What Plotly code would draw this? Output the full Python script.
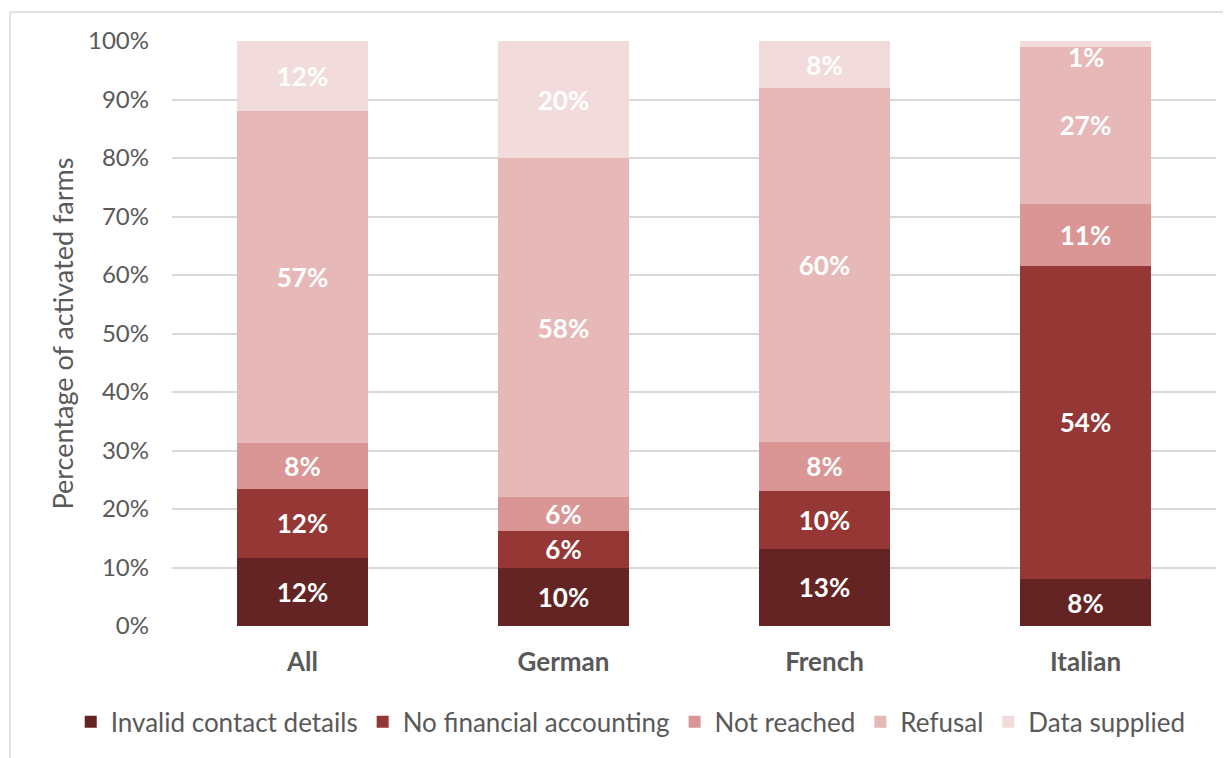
import plotly.graph_objects as go

categories = ["All", "German", "French", "Italian"]
series_names = ["Invalid contact details", "No financial accounting", "Not reached", "Refusal", "Data supplied"]
invalid_contact = [11.6, 10.0, 13.2, 8.0]
no_financial = [11.9, 6.2, 9.9, 53.6]
not_reached = [7.7, 5.8, 8.4, 10.6]
refusal = [56.8, 58.0, 60.4, 26.8]
data_supplied = [12.0, 20.0, 8.1, 1.0]
tick_vals = [0, 10, 20, 30, 40, 50, 60, 70, 80, 90, 100]
tick_text = ["0%", "10%", "20%", "30%", "40%", "50%", "60%", "70%", "80%", "90%", "100%"]

colors = ["#632423", "#953735", "#D99694", "#E6B9B8", "#F2DCDB"]
series = [invalid_contact, no_financial, not_reached, refusal, data_supplied]

FONT = "Lato"
GREY = "#595959"
SMALL = 3  # segments thinner than this get their label nudged down from the stack top

fig = go.Figure()
cum = [0.0] * len(categories)
annotations = []
for name, vals, col in zip(series_names, series, colors):
    templates = []
    for i, v in enumerate(vals):
        top = cum[i] + v
        if v < SMALL:
            templates.append("")
            annotations.append(dict(
                x=categories[i], y=top, xref="x", yref="y",
                text=f"{v:.0f}%", showarrow=False, yanchor="middle",
                yshift=-16,
                font=dict(family=FONT, size=26, color="white", weight="bold"),
            ))
        else:
            templates.append("%{y:.0f}%")
        cum[i] = top
    fig.add_trace(go.Bar(
        x=categories, y=vals, name=name,
        marker=dict(color=col, line=dict(width=0)),
        texttemplate=templates,
        textposition="inside",
        insidetextanchor="middle",
        textangle=0,
        textfont=dict(family=FONT, size=26, color="white", weight="bold"),
        hoverinfo="skip",
    ))

fig.update_layout(
    barmode="stack",
    bargap=0.5,
    width=1223, height=750,
    margin=dict(l=164, r=15, t=33, b=132, autoexpand=False),
    plot_bgcolor="white",
    paper_bgcolor="white",
    font=dict(family=FONT, color=GREY),
    uniformtext=dict(minsize=26, mode="show"),
    showlegend=True,
    annotations=annotations,
    legend=dict(
        orientation="h",
        xref="paper", yref="paper",
        x=-0.097, xanchor="left",
        y=-0.164, yanchor="middle",
        font=dict(family=FONT, size=26, color=GREY),
        traceorder="normal",
        itemwidth=30,
    ),
    xaxis=dict(
        tickfont=dict(family=FONT, size=26, color=GREY, weight="bold"),
        showline=False, ticks="", showgrid=False,
        ticklabelstandoff=18,
    ),
    yaxis=dict(
        range=[0, 100],
        tickvals=tick_vals, ticktext=tick_text,
        tickfont=dict(family=FONT, size=24, color=GREY),
        showgrid=True, gridcolor="#D9D9D9", gridwidth=1.5,
        zeroline=False, showline=False, ticks="",
        ticklabelstandoff=22,
        title=dict(text="Percentage of activated farms",
                   font=dict(family=FONT, size=27, color=GREY),
                   standoff=6),
    ),
    shapes=[
        dict(type="line", xref="paper", yref="paper",
             x0=-0.1552, x1=1.02, y0=1.0496, y1=1.0496,
             line=dict(color="#D9D9D9", width=1.5)),
        dict(type="line", xref="paper", yref="paper",
             x0=-0.1552, x1=-0.1552, y0=1.0496, y1=-0.23,
             line=dict(color="#D9D9D9", width=1.5)),
    ],
)

fig.write_html("out.html")
